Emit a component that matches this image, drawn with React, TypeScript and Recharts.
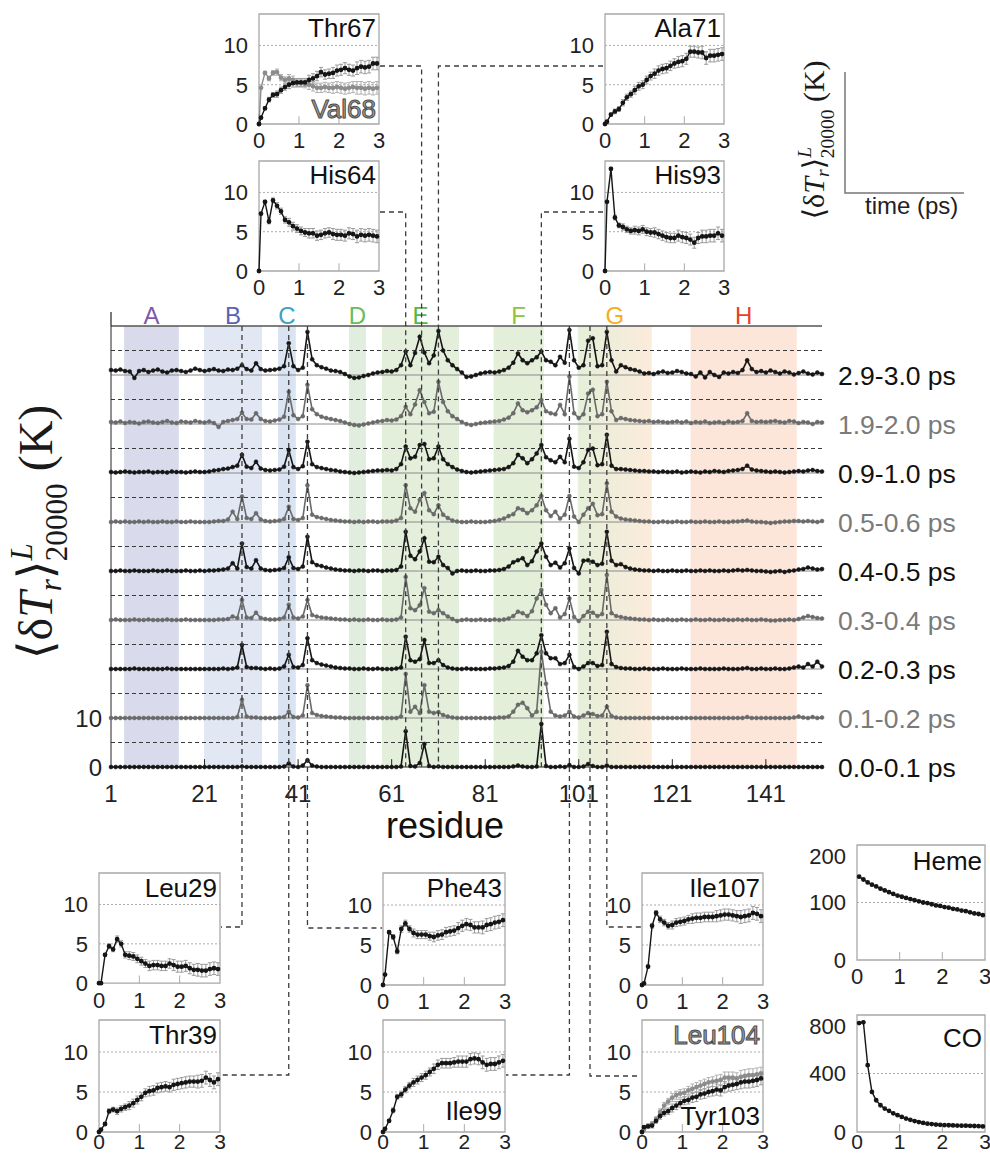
import React from 'react';
import { LineChart, Line, XAxis, YAxis, ReferenceLine, ReferenceArea, ErrorBar } from 'recharts';

const FONT = "'Liberation Sans', Arial, Helvetica, sans-serif";
const SERIF = "'Liberation Serif', 'DejaVu Serif', 'Times New Roman', serif";

// ---------- main panel data (residue 1..153, one array per time window) ----------
const residues = Array.from({ length: 153 }, (_, i) => i + 1);

const seriesLabels = ['0.0-0.1 ps', '0.1-0.2 ps', '0.2-0.3 ps', '0.3-0.4 ps', '0.4-0.5 ps',
  '0.5-0.6 ps', '0.9-1.0 ps', '1.9-2.0 ps', '2.9-3.0 ps'];

const s00 = [
  0, 0, 0, 0, 0, 0, 0, 0, 0, 0,
  0, 0, 0, 0, 0, 0, 0, 0, 0, 0,
  0, 0, 0, 0, 0, 0, 0, 0, 0.1, 0,
  0, 0, 0, 0, 0, 0, 0, 0.1, 0.7, 0.1,
  0, 0.3, 1.4, 0.3, 0.1, 0, 0, 0, 0, 0,
  0, 0, 0, 0, 0, 0, 0, 0, 0, 0,
  0, 0, 0.1, 7.3, 0.2, 0.1, 0.8, 4.7, 0.2, 0,
  0.1, 0, 0, 0, 0, 0, 0, 0, 0, 0,
  0, 0, 0, 0, 0, 0, 0.1, 0.3, 0.1, 0,
  0, 0.1, 8.8, 0.2, 0, 0, 0.1, 0, 0.4, 0,
  0, 0.1, 0.6, 0.2, 0, 0, 0.3, 0, 0, 0,
  0, 0, 0, 0, 0, 0, 0, 0, 0, 0,
  0, 0, 0, 0, 0, 0, 0, 0, 0, 0,
  0, 0, 0, 0, 0, 0, 0, 0, 0, 0,
  0, 0, 0, 0, 0, 0, 0, 0, 0, 0,
  0, 0, 0,
];
const s01 = [
  0, 0, 0, 0, 0, 0, 0, 0, 0, 0,
  0, 0, 0, 0, 0, 0, 0, 0, 0, 0,
  0, 0, 0, 0, 0, 0, 0, 0.2, 3.7, 0.3,
  0.1, 0.1, 0, 0, 0, 0, 0.1, 0.2, 1.3, 0.2,
  0.1, 0.5, 6.7, 1.0, 0.6, 0.4, 0.3, 0.2, 0.1, 0.1,
  0, 0, 0, 0, 0, 0, 0, 0, 0, 0,
  0, 0, 0.3, 9.0, 1.3, 2.3, 1.0, 6.7, 1.3, 1.0,
  1.2, 0.6, 0.3, 0.1, 0, 0, 0, 0, 0, 0,
  0, 0, 0, 0.1, 0.1, 0.3, 1.3, 2.7, 3.1, 2.0,
  0.5, 1.3, 13.5, 7.0, 1.3, 0.5, 0.3, 0.5, 1.3, 0.3,
  0.1, 0.5, 1.0, 0.8, 0.4, 0.5, 2.3, 0.4, 0.1, 0,
  0, 0, 0, 0, 0, 0, 0, 0, 0, 0,
  0, 0, 0, 0, 0, 0, 0, 0, 0, 0,
  0, 0, 0, 0, 0, 0, 0.2, 0, 0, 0,
  0, 0, 0, 0, 0, 0, 0.1, 0.3, 0.1, 0,
  0.2, 0, 0.1,
];
const s02 = [
  0, 0, 0, 0, 0, 0.1, 0, 0, 0, 0,
  0, 0, 0.1, 0, 0, 0, 0, 0, 0, 0,
  0, 0, 0, 0, 0.1, 0, 0.1, 0.3, 4.9, 0.4,
  0.2, 0.2, 0.1, 0, 0.1, 0, 0.1, 0.5, 2.9, 0.4,
  0.3, 0.8, 6.3, 1.8, 1.2, 0.9, 0.7, 0.5, 0.3, 0.2,
  0.1, 0.1, 0, 0, 0.1, 0, 0, 0.1, 0, 0,
  0, 0.1, 0.3, 6.6, 1.8, 1.5, 2.0, 5.9, 1.2, 1.2,
  1.8, 0.8, 0.3, 0.1, 0, 0, 0.1, 0, 0, 0,
  0, 0.1, 0.1, 0.2, 0.3, 0.6, 1.5, 3.7, 2.5, 1.8,
  1.8, 3.2, 6.9, 3.2, 2.2, 2.2, 1.0, 1.2, 2.9, 0.4,
  0, 0.5, 1.2, 1.2, 0.6, 0.8, 7.6, 1.0, 0.4, 0.2,
  0.1, 0.1, 0, 0, 0.1, 0, 0, 0, 0.1, 0,
  0, 0, 0.1, 0, 0, 0, 0.1, 0, 0, 0,
  0, 0.1, 0, 0, 0, 0.1, 0.2, 0, 0, 0.1,
  0, 0, 0.1, 0, 0, 0.1, 0.3, 0.5, 0.3, 1.0,
  0.5, 1.5, 0.5,
];
const s03 = [
  0, 0.1, 0, 0, 0, 0.1, 0, 0, 0.1, 0,
  0, 0, 0.1, 0, 0, 0, 0.1, 0, 0, 0,
  0, 0, 0, 0.1, 0.1, 0.2, 0.7, 0.4, 4.1, 0.5,
  0.4, 1.5, 0.4, 0.2, 0.1, 0.1, 0.2, 0.5, 3.1, 0.5,
  0.3, 0.7, 4.1, 1.0, 0.7, 0.5, 0.4, 0.3, 0.2, 0.1,
  0.1, 0, 0.1, 0, 0, 0.1, 0, 0, 0.1, 0,
  0, 0.1, 0.5, 8.8, 2.4, 2.0, 3.0, 6.5, 1.7, 1.4,
  2.0, 1.4, 0.7, 0.2, -0.2, 0, 0.1, 0, 0, 0.1,
  0, 0, 0.1, 0, 0.1, 0.3, 0.8, 1.7, 1.4, 0.8,
  1.8, 4.4, 6.1, 3.1, 1.4, 2.4, 0.5, 1.2, 4.4, 0.6,
  -0.2, 0.8, 1.7, 1.5, 0.8, 1.2, 9.2, 1.4, 0.8, 0.6,
  0.4, 0.3, 0.2, 0.1, 0.1, 0, 0.1, 0, 0, 0.1,
  0, 0, 0.1, 0, 0, 0.1, 0, 0, 0.1, 0,
  0, 0.1, 0, 0, 0.1, 0, 0.1, 0, 0, 0.1,
  0, -0.1, -0.1, 0, 0, 0.1, 0, 0.2, 0.5, 0.8,
  0.6, 0.4, 0.3,
];
const s04 = [
  0, 0, 0.1, 0, 0, 0.1, 0, 0, 0, 0.1,
  0, 0, 0.1, 0, 0, 0, 0.1, 0, 0, 0.1,
  0, 0.1, 0.1, 0.2, 0.3, 0.5, 1.6, 0.5, 5.6, 0.8,
  0.5, 2.2, 0.5, 0.2, 0.1, 0.2, 0.3, 0.6, 2.8, 0.6,
  0.4, 0.9, 7.0, 1.8, 1.2, 1.0, 0.7, 0.5, 0.3, 0.2,
  0.1, 0.1, 0, 0.1, 0.1, 0, 0.1, 0.1, 0, 0.1,
  0.1, 0.2, 0.9, 8.0, 3.1, 2.4, 4.0, 6.7, 1.9, 1.8,
  2.9, 1.2, 0.6, -0.5, 0, 0.1, 0, 0, 0.1, 0,
  0, 0.1, 0.1, 0.2, 0.4, 0.9, 1.8, 2.2, 2.6, 1.2,
  2.0, 4.0, 5.6, 2.9, 1.2, 1.7, 0.7, 1.6, 4.6, 0.6,
  -0.5, 2.1, 2.2, 1.9, 1.2, 1.5, 8.0, 2.1, 1.2, 1.4,
  0.8, 0.5, 0.3, 0.2, 0.1, 0.1, 0, 0.1, 0, 0,
  0.1, 0, 0, 0.1, 0, 0, 0.1, 0, 0.1, 0,
  0, 0.1, 0, 0.1, 0.2, 0.1, 0.2, 0.1, 0, 0,
  -0.1, -0.2, -0.1, 0, -0.2, 0, 0.1, 0.3, 0.4, 0.7,
  0.5, 0.3, 0.4,
];
const s05 = [
  0, 0.1, 0, 0.1, 0, 0, 0.1, 0, 0.1, 0,
  0, 0.1, 0, 0, 0.1, 0, 0, 0.1, 0, 0,
  0, 0, 0.1, 0.2, 0.2, 0.5, 2.1, 0.6, 5.2, 0.8,
  0.6, 1.8, 0.5, 0.2, 0.1, 0.2, 0.3, 0.6, 3.1, 0.6,
  0.4, 0.8, 7.5, 1.5, 1.0, 0.8, 0.6, 0.4, 0.3, 0.2,
  0.1, 0.1, 0, 0.1, 0, 0.1, 0.1, 0, 0.1, 0.1,
  0.1, 0.3, 0.8, 7.5, 2.8, 2.1, 4.5, 5.9, 2.4, 1.6,
  3.4, 1.5, 0.8, 0.3, 0.1, 0, 0, 0.1, 0, 0,
  0, 0.1, 0.2, 0.4, 0.7, 1.2, 1.6, 2.8, 2.5, 1.8,
  2.4, 3.4, 5.3, 2.4, 1.2, 2.1, 0.7, 1.5, 5.3, 1.1,
  0, 1.5, 2.8, 3.7, 1.4, 1.6, 7.9, 2.1, 1.1, 0.7,
  0.5, 0.4, 0.3, 0.2, 0.1, 0.1, 0, 0, 0.1, 0,
  0, 0.1, 0, 0, 0.1, 0, 0, 0.1, 0, 0,
  0.1, 0, 0, 0.1, 0.1, 0.2, 0.3, 0.1, 0, 0,
  -0.1, -0.2, -0.1, 0, 0.1, 0.1, 0.2, 0.2, 0.1, 0.2,
  0.1, 0, 0.2,
];
const s09 = [
  0.2, 0.1, 0.2, 0.3, 0.2, 0.1, 0.2, 0.2, 0.3, 0.1,
  0.2, 0.2, 0.1, 0.3, 0.2, 0.2, 0.1, 0.2, 0.3, 0.2,
  0.2, 0.3, 0.5, 0.6, 0.8, 0.9, 1.2, 1.5, 3.7, 1.3,
  1.0, 2.3, 0.9, 0.6, 0.5, 0.6, 0.7, 1.3, 4.7, 1.2,
  0.8, 1.4, 6.4, 1.8, 1.2, 1.0, 0.8, 0.6, 0.5, 0.3,
  0.2, 0.1, 0, 0.1, 0.2, 0.3, 0.4, 0.5, 0.5, 0.6,
  0.5, 0.8, 1.8, 5.4, 3.0, 3.3, 5.7, 5.9, 2.8, 3.0,
  5.4, 2.8, 1.8, 1.2, 0.7, 0.4, 0.2, 0.1, 0.2, 0.3,
  0.4, 0.5, 0.6, 0.7, 0.8, 1.2, 2.0, 3.7, 3.0, 2.0,
  2.8, 4.0, 5.7, 3.2, 2.6, 2.2, 3.3, 2.2, 7.0, 1.3,
  1.0, 2.2, 4.7, 5.0, 1.6, 1.8, 7.8, 1.5, 0.8, 0.8,
  0.7, 0.6, 0.5, 0.4, 0.4, 0.3, 0.3, 0.2, 0.3, 0.2,
  0.2, 0.3, 0.1, 0.2, 0.3, 0.2, 0.1, 0.3, 0.2, 0.4,
  0.3, 0.2, 0.4, 0.5, 0.6, 0.8, 1.5, 0.7, 0.5, 0.4,
  0.3, 0.2, 0.3, 0.2, 0.1, 0.2, 0.3, 0.4, 0.3, 0.5,
  0.6, 0.4, 0.3,
];
const s19 = [
  0.4, 0.3, 0.5, 0.2, 0.4, 0.3, 0.1, 0.4, 0.5, 0.3,
  0.2, 0.4, 0.6, 0.3, 0.2, 0.5, 0.4, 0.3, 0.6, 0.4,
  0.3, 0.5, 0.2, -0.6, 0.4, 0.6, 0.8, 1.0, 2.3, 1.0,
  0.9, 2.2, 1.0, 0.6, 0.5, 0.7, 0.9, 1.5, 6.6, 1.8,
  1.0, 1.6, 8.0, 3.0, 2.0, 1.5, 1.2, 1.0, 0.8, 0.6,
  0.3, 0, -0.2, -0.3, -0.1, 0.1, 0.3, 0.5, 0.6, 0.8,
  0.7, 0.9, 1.6, 3.5, 2.0, 4.0, 6.9, 4.5, 2.2, 2.5,
  8.6, 4.5, 2.6, 1.6, 1.0, 0.4, 0, -0.2, 0, 0.2,
  0.3, 0.4, 0.5, 0.6, 0.9, 1.3, 2.2, 4.2, 2.8, 2.4,
  2.8, 3.4, 4.9, 2.6, 2.2, 2.0, 3.9, 2.0, 9.7, 2.2,
  1.2, 2.0, 6.2, 7.0, 1.6, 2.0, 8.6, 2.6, 0.8, 1.2,
  1.0, 0.8, 0.7, 0.6, 0.5, 0.6, 0.4, 0.5, 0.4, 0.3,
  0.4, 0.5, 0.3, 0.5, 0.2, 0.4, 0.3, 0.5, 0.2, 0.3,
  0.4, 0.2, 0.5, 0.3, 0.4, 0.6, 2.2, 0.6, 0.4, 0.5,
  0.4, 0.5, 0.6, 0.4, 0.3, 0.6, 0.5, 0.2, 0.4, 0.3,
  0, 0.4, 0.3,
];
const s29 = [
  1.0, 0.9, 1.1, 0.8, 0.7, -0.6, 0.8, 1.0, 0.6, 0.9,
  1.1, 0.7, 0.5, 0.9, 1.0, 0.8, 0.6, 0.9, 1.3, 1.0,
  0.8, 1.0, 1.2, 0.9, 0.8, 1.1, 1.0, 1.3, 2.0, 1.2,
  0.9, 2.4, 1.2, 0.9, 1.0, 1.1, 1.3, 1.8, 6.5, 1.8,
  1.0, 1.5, 8.8, 3.2, 2.0, 1.6, 1.3, 0.9, 0.8, 0.6,
  0.2, -0.3, -0.6, -0.5, -0.2, 0, 0.3, 0.5, 0.6, 0.8,
  0.7, 1.0, 2.0, 4.8, 2.0, 4.5, 7.8, 4.6, 2.4, 4.0,
  9.0, 5.0, 3.0, 2.0, 1.2, 0.5, -0.4, -0.3, 0, 0.3,
  0.5, 0.6, 0.5, 0.7, 1.0, 1.5, 2.5, 4.4, 3.0, 2.4,
  3.0, 3.6, 4.8, 3.0, 2.7, 2.0, 3.7, 2.5, 9.2, 3.0,
  1.5, 2.0, 7.0, 7.5, 1.8, 2.0, 8.8, 3.0, 0.7, 2.0,
  1.6, 1.2, 1.0, 0.7, 0.3, 0.4, 0.2, 0.5, 0.7, 0.4,
  0.5, 0.8, 0.6, 0.3, 0.2, -0.3, 0.5, -0.5, 0.6, 0,
  -0.4, 0.5, 0.3, 0.6, 0.4, 1.0, 3.0, 1.2, 0.6, 0.8,
  0.5, 0.9, 0.6, 0.3, 0.7, 0.5, 0.1, 0.4, 0.7, 0.3,
  0.1, 0.5, 0.2,
];
const mainSeries = [s00, s01, s02, s03, s04, s05, s09, s19, s29];

// helices
const helixNames = ['A', 'B', 'C', 'D', 'E', 'F', 'G', 'H'];
const helixStart = [3.8, 20.9, 36.7, 51.9, 58.9, 82.8, 100.8, 124.9];
const helixEnd = [15.5, 33.3, 40.5, 55.5, 75.4, 93.5, 116.6, 147.6];
const helixFill = ['#d9dbed', '#e1e8f4', '#d9e3f1', '#e1edde', '#e4efdb', '#e3efd9', 'url(#gBand)', '#fbe6d9'];
const helixText = ['#7d5aa8', '#5a62b8', '#3aa3c2', '#62bf5c', '#52b848', '#8dc43a', '#f5ad1c', '#ea3f27'];

// ---------- inset data (time in ps) ----------
const time = [0, 0.05, 0.15, 0.25, 0.35, 0.45, 0.55, 0.65, 0.75, 0.85, 0.95, 1.05, 1.15, 1.25, 1.35, 1.45,
  1.55, 1.65, 1.75, 1.85, 1.95, 2.05, 2.15, 2.25, 2.35, 2.45, 2.55, 2.65, 2.75, 2.85, 2.95];
const timeHC = time.slice(1);
const errs = [0, 0.1, 0.2, 0.3, 0.3, 0.4, 0.4, 0.4, 0.5, 0.5, 0.5, 0.5, 0.5, 0.6, 0.6, 0.6,
  0.6, 0.6, 0.6, 0.7, 0.7, 0.7, 0.7, 0.7, 0.7, 0.8, 0.8, 0.8, 0.8, 0.8, 0.8];

const thr67 = [0, 0.8, 2.0, 3.1, 3.7, 3.8, 4.3, 4.7, 5.0, 5.2, 5.3, 5.3, 5.3, 5.6, 5.8, 6.1, 6.6, 6.3, 6.4, 6.5, 6.8, 6.9, 7.1, 6.9, 6.8, 7.1, 7.3, 7.2, 7.3, 7.7, 7.7];
const val68 = [0, 4.6, 6.5, 5.8, 6.5, 6.6, 5.9, 5.6, 5.8, 5.6, 5.2, 5.2, 5.1, 5.0, 4.8, 4.6, 4.6, 4.7, 4.6, 4.6, 4.7, 4.6, 4.5, 4.6, 4.7, 4.6, 4.6, 4.5, 4.6, 4.5, 4.6];
const his64 = [0, 7.3, 8.8, 6.3, 9.0, 8.3, 7.6, 6.5, 6.2, 5.7, 5.4, 5.1, 4.9, 4.8, 4.8, 4.5, 4.6, 4.8, 4.9, 4.7, 4.6, 4.6, 4.5, 4.8, 4.7, 4.4, 4.6, 4.5, 4.6, 4.5, 4.4];
const ala71 = [0, 0.3, 1.2, 1.6, 1.9, 2.7, 3.4, 3.8, 4.3, 4.8, 5.0, 5.6, 6.1, 6.4, 6.8, 7.0, 7.1, 7.4, 7.7, 7.9, 8.0, 8.3, 9.2, 9.2, 9.1, 9.1, 8.4, 8.7, 8.7, 8.8, 8.9];
const his93 = [0, 8.8, 13.0, 6.8, 5.8, 5.6, 5.3, 5.1, 5.2, 5.1, 5.3, 5.0, 4.9, 4.9, 4.7, 4.5, 4.3, 4.2, 4.2, 4.5, 4.3, 4.2, 4.0, 3.6, 4.2, 4.4, 4.4, 4.5, 4.5, 4.8, 4.5];
const leu29 = [0, 0, 3.6, 4.7, 4.3, 5.6, 5.0, 3.6, 3.5, 3.4, 3.1, 2.8, 2.5, 2.2, 2.3, 2.3, 2.2, 2.2, 2.5, 2.3, 2.1, 2.1, 2.2, 1.9, 1.7, 1.7, 1.6, 1.6, 1.8, 1.9, 1.8];
const thr39 = [0, 0.3, 1.0, 2.6, 2.8, 2.6, 2.9, 3.1, 3.3, 3.6, 4.0, 4.4, 4.9, 5.1, 5.2, 5.5, 5.6, 5.7, 5.6, 5.9, 6.0, 6.1, 6.2, 6.3, 6.3, 6.3, 6.4, 6.8, 6.5, 6.2, 6.6];
const phe43 = [0, 1.3, 6.6, 6.0, 4.2, 7.0, 7.7, 7.0, 6.5, 6.3, 6.3, 6.3, 6.1, 6.0, 6.2, 6.3, 6.6, 6.7, 6.8, 7.1, 7.4, 7.6, 7.5, 7.2, 7.2, 7.2, 7.5, 7.6, 7.8, 7.9, 8.1];
const ile99 = [0, 0.4, 1.4, 2.7, 4.4, 4.7, 5.3, 5.8, 6.2, 6.5, 6.8, 7.1, 7.5, 7.9, 8.4, 8.6, 8.6, 8.6, 8.7, 8.8, 8.8, 8.8, 9.1, 9.2, 9.1, 8.7, 8.4, 8.5, 8.5, 8.7, 8.9];
const ile107 = [0, 0.2, 2.3, 7.4, 9.0, 8.2, 7.8, 7.4, 7.5, 7.8, 7.9, 8.0, 8.2, 8.3, 8.4, 8.4, 8.5, 8.5, 8.5, 8.6, 8.7, 8.8, 8.8, 8.7, 8.6, 8.5, 8.6, 8.7, 9.0, 8.9, 8.6];
const tyr103 = [0, 0.6, 0.7, 0.8, 1.4, 2.0, 2.4, 2.6, 3.0, 3.3, 3.6, 3.9, 4.0, 4.3, 4.4, 4.7, 4.8, 5.0, 5.1, 5.3, 5.2, 5.6, 5.8, 5.9, 6.0, 6.2, 6.3, 6.3, 6.4, 6.5, 6.7];
const leu104 = [0, 0.3, 0.8, 1.0, 1.6, 2.5, 3.3, 3.8, 4.3, 4.6, 4.8, 4.9, 5.2, 5.4, 5.6, 5.8, 6.0, 6.2, 6.3, 6.4, 6.5, 6.8, 6.8, 6.8, 6.7, 6.9, 7.0, 7.1, 7.1, 7.2, 7.3];
const heme = [145, 140, 135, 131, 128, 124, 121, 118, 115, 112, 110, 108, 106, 104, 102, 100, 99, 97, 95, 94, 92, 91, 89, 88, 86, 85, 83, 81, 80, 78];
const co = [745, 750, 457, 274, 217, 183, 160, 145, 128, 115, 103, 92, 83, 75, 68, 62, 57, 54, 51, 49, 47, 46, 45, 44, 43, 43, 42, 41, 40, 38];

// ---------- layout ----------
const PL = 111, PR = 822, PT = 326, PB = 767;
const rx = (res: number) => PL + ((res - 1) * (PR - PL)) / 152;
const ry = (v: number) => PB - ((PB - PT) * v) / 90;

type Box = { l: number; t: number; w: number; h: number };
type Title = { text: string; where: 'top' | 'bottom'; dy: number; outline?: boolean };
type InsetDef = {
  box: Box; times: number[]; a: number[]; b?: number[]; err: boolean;
  yMax: number; yTicks: number[]; grid: number[]; titles: Title[];
};

const insets: InsetDef[] = [
  { box: { l: 259, t: 14, w: 120, h: 110 }, times: time, a: thr67, b: val68, err: true, yMax: 14, yTicks: [0, 5, 10], grid: [5, 10],
    titles: [{ text: 'Thr67', where: 'top', dy: 23 }, { text: 'Val68', where: 'bottom', dy: -6, outline: true }] },
  { box: { l: 259, t: 161, w: 120, h: 110 }, times: time, a: his64, err: true, yMax: 14, yTicks: [0, 5, 10], grid: [5, 10],
    titles: [{ text: 'His64', where: 'top', dy: 23 }] },
  { box: { l: 605, t: 14, w: 119, h: 110 }, times: time, a: ala71, err: true, yMax: 14, yTicks: [0, 5, 10], grid: [5, 10],
    titles: [{ text: 'Ala71', where: 'top', dy: 23 }] },
  { box: { l: 605, t: 161, w: 119, h: 110 }, times: time, a: his93, err: true, yMax: 14, yTicks: [0, 5, 10], grid: [5, 10],
    titles: [{ text: 'His93', where: 'top', dy: 23 }] },
  { box: { l: 99, t: 873, w: 121, h: 111 }, times: time, a: leu29, err: true, yMax: 14, yTicks: [0, 5, 10], grid: [5, 10],
    titles: [{ text: 'Leu29', where: 'top', dy: 24 }] },
  { box: { l: 99, t: 1020, w: 121, h: 112 }, times: time, a: thr39, err: true, yMax: 14, yTicks: [0, 5, 10], grid: [5, 10],
    titles: [{ text: 'Thr39', where: 'top', dy: 24 }] },
  { box: { l: 383, t: 873, w: 122, h: 112 }, times: time, a: phe43, err: true, yMax: 14, yTicks: [0, 5, 10], grid: [5, 10],
    titles: [{ text: 'Phe43', where: 'top', dy: 24 }] },
  { box: { l: 383, t: 1020, w: 122, h: 112 }, times: time, a: ile99, err: true, yMax: 14, yTicks: [0, 5, 10], grid: [5, 10],
    titles: [{ text: 'Ile99', where: 'bottom', dy: -12 }] },
  { box: { l: 642, t: 873, w: 121, h: 112 }, times: time, a: ile107, err: true, yMax: 14, yTicks: [0, 5, 10], grid: [5, 10],
    titles: [{ text: 'Ile107', where: 'top', dy: 24 }] },
  { box: { l: 642, t: 1020, w: 121, h: 112 }, times: time, a: tyr103, b: leu104, err: true, yMax: 14, yTicks: [0, 5, 10], grid: [5, 10],
    titles: [{ text: 'Leu104', where: 'top', dy: 24, outline: true }, { text: 'Tyr103', where: 'bottom', dy: -7 }] },
  { box: { l: 857, t: 845, w: 128, h: 115 }, times: timeHC, a: heme, err: false, yMax: 200, yTicks: [0, 100, 200], grid: [100],
    titles: [{ text: 'Heme', where: 'top', dy: 25 }] },
  { box: { l: 857, t: 1015, w: 128, h: 117 }, times: timeHC, a: co, err: false, yMax: 800, yTicks: [0, 400, 800], grid: [400],
    titles: [{ text: 'CO', where: 'top', dy: 32 }] },
];

const topLinks = [
  { res: 67.4, y: 66, xEnd: 380 },
  { res: 71, y: 66, xEnd: 603 },
  { res: 64, y: 212, xEnd: 380 },
  { res: 93, y: 212, xEnd: 603 },
];
const bottomLinks = [
  { res: 29, y: 927, xEnd: 221 },
  { res: 39, y: 1075, xEnd: 221 },
  { res: 43, y: 928, xEnd: 382 },
  { res: 99, y: 1075, xEnd: 506 },
  { res: 103.4, y: 1076, xEnd: 641 },
  { res: 107, y: 927, xEnd: 641 },
];

const BLACK = '#161616';
const GRAY = '#6a6a6a';

function MainPanel() {
  const rows = residues.map((r, i) => {
    const row: Record<string, number> = { r };
    mainSeries.forEach((s, k) => { row['s' + k] = s[i] + 10 * k; });
    return row;
  });
  const solid = [10, 20, 30, 40, 50, 60, 70, 80, 90];
  const dashed = [5, 15, 25, 35, 45, 55, 65, 75, 85];
  const xTicks = [1, 21, 41, 61, 81, 101, 121, 141];
  return (
    <div style={{ position: 'absolute', left: 0, top: 290 }}>
      <LineChart width={990} height={527} data={rows} margin={{ top: 36, right: 168, bottom: 10, left: 0 }}>
        <defs>
          <linearGradient id="gBand" x1="0" y1="0" x2="1" y2="0">
            <stop offset="0%" stopColor="#e5efd9" />
            <stop offset="100%" stopColor="#fcebdb" />
          </linearGradient>
        </defs>
        <XAxis dataKey="r" type="number" domain={[1, 153]} ticks={xTicks} tickLine={false} tickMargin={12}
          height={40} stroke="#222" tick={{ fontSize: 24, fill: '#222', fontFamily: FONT }} />
        <YAxis type="number" domain={[0, 90]} ticks={[0, 10]} width={111} tickLine={false} tickMargin={3}
          stroke="#222" tick={{ fontSize: 24, fill: '#222', fontFamily: FONT }} />
        {helixNames.map((n, i) => (
          <ReferenceArea key={n} x1={helixStart[i]} x2={helixEnd[i]} y1={0} y2={90} fill={helixFill[i]} fillOpacity={1}
            stroke="none" label={{ value: n, position: 'top', offset: 2, fill: helixText[i], fontSize: 24, fontFamily: FONT }} />
        ))}
        {solid.map((v) => (
          <ReferenceLine key={'s' + v} y={v} stroke={v === 90 ? '#555' : '#8a8a8a'} strokeWidth={v === 90 ? 1.5 : 1} />
        ))}
        {dashed.map((v) => (
          <ReferenceLine key={'d' + v} y={v} stroke="#3a3a3a" strokeWidth={1.2} strokeDasharray="4 3" />
        ))}
        {xTicks.slice(1).map((v) => (
          <ReferenceLine key={'t' + v} segment={[{ x: v, y: 0 }, { x: v, y: 1.6 }]} stroke="#222" />
        ))}
        {mainSeries.map((_, k) => {
          const c = k % 2 ? GRAY : BLACK;
          return (
            <Line key={k} dataKey={'s' + k} stroke={c} strokeWidth={1.6} isAnimationActive={false}
              dot={{ r: 2, fill: c, stroke: c, strokeWidth: 0.5 }} />
          );
        })}
      </LineChart>
    </div>
  );
}

function Inset({ def }: { def: InsetDef }) {
  const { box } = def;
  const yw = 60, mt = 2, mr = 14, xh = 34;
  // bottom row sits at the page edge: pull its time labels up a little so they stay inside
  const lowRow = box.t + box.h > 1100;
  const rows = def.times.map((t, i) => ({
    t, a: def.a[i], b: def.b ? def.b[i] : undefined, e: def.err ? errs[i] : 0,
  }));
  const tick = { fontSize: 22, fill: '#222', fontFamily: FONT };
  return (
    <div style={{ position: 'absolute', left: box.l - yw, top: box.t - mt }}>
      <LineChart width={yw + box.w + mr} height={mt + box.h + xh} data={rows} margin={{ top: mt, right: mr, bottom: 0, left: 0 }}>
        <XAxis dataKey="t" type="number" domain={[0, 3]} ticks={[0, 1, 2, 3]} height={xh} tickLine={false}
          tickMargin={lowRow ? -4 : 2} axisLine={false} tick={{ ...tick, fontSize: lowRow ? 21 : 22 }} />
        <YAxis type="number" domain={[0, def.yMax]} ticks={def.yTicks} width={yw} tickLine={false}
          tickMargin={5} axisLine={false} tick={tick} />
        {def.grid.map((g) => (
          <ReferenceLine key={g} y={g} stroke="#aaa" strokeDasharray="2 2" />
        ))}
        {[1, 2].map((v) => (
          <ReferenceLine key={'t' + v} segment={[{ x: v, y: 0 }, { x: v, y: def.yMax * 0.07 }]} stroke="#aaa" />
        ))}
        <ReferenceArea x1={0} x2={3} y1={0} y2={def.yMax} fill="none" stroke="#a8a8a8" strokeWidth={1.3} />
        {def.b && (
          <Line dataKey="b" stroke="#8c8c8c" strokeWidth={1.4} isAnimationActive={false}
            dot={{ r: 1.7, fill: '#8c8c8c', stroke: '#8c8c8c' }}>
            <ErrorBar dataKey="e" width={2} stroke="#b0b0b0" strokeWidth={1} />
          </Line>
        )}
        <Line dataKey="a" stroke={BLACK} strokeWidth={1.4} isAnimationActive={false}
          dot={{ r: 1.7, fill: BLACK, stroke: BLACK }}>
          {def.err && <ErrorBar dataKey="e" width={2} stroke="#9a9a9a" strokeWidth={1} />}
        </Line>
      </LineChart>
    </div>
  );
}

const MathLabel = ({ x, y, fs }: { x: number; y: number; fs: number }) => (
  <text transform={`translate(${x},${y}) rotate(-90)`} textAnchor="middle" fontFamily={SERIF} fontSize={fs} fill="#1a1a1a">
    <tspan>⟨δ</tspan>
    <tspan fontStyle="italic">T</tspan>
    <tspan fontStyle="italic" fontSize={fs * 0.65} dy={fs * 0.18}>r</tspan>
    <tspan dy={-fs * 0.18}>⟩</tspan>
    <tspan fontStyle="italic" fontSize={fs * 0.65} dy={-fs * 0.42}>L</tspan>
    <tspan fontSize={fs * 0.65} dx={-fs * 0.38} dy={fs * 0.74}>20000</tspan>
    <tspan dy={-fs * 0.32}> (K)</tspan>
  </text>
);

function Overlay() {
  const dash = { fill: 'none', stroke: '#3c3c3c', strokeWidth: 1.3, strokeDasharray: '5 4' };
  return (
    <svg width={990} height={1159} style={{ position: 'absolute', left: 0, top: 0, pointerEvents: 'none' }}>
      {topLinks.map((c, i) => (
        <path key={'tl' + i} d={`M${c.xEnd},${c.y} H${rx(c.res)} V${PB}`} {...dash} />
      ))}
      {bottomLinks.map((c, i) => (
        <path key={'bl' + i} d={`M${rx(c.res)},${PT} V${c.y} H${c.xEnd}`} {...dash} />
      ))}
      <line x1={PL} y1={312} x2={PL} y2={PT} stroke="#222" strokeWidth={1.2} />
      {seriesLabels.map((s, k) => (
        <text key={s} x={838} y={ry(10 * k)} dy="0.36em" fontSize={26.5} fontFamily={FONT}
          fill={k % 2 ? '#7a7a7a' : '#111'}>{s}</text>
      ))}
      <path d="M845,72 V193 H964" fill="none" stroke="#777" strokeWidth={1.5} />
      <text x={865} y={214} fontSize={24} fontFamily={FONT} fill="#222">time (ps)</text>
      <MathLabel x={824} y={140} fs={30} />
      <MathLabel x={52} y={532} fs={48} />
      <text x={445} y={838} fontSize={36} fontFamily={FONT} textAnchor="middle" fill="#111">residue</text>
      {insets.map((d, i) =>
        d.titles.map((t, j) => (
          <text key={`${i}-${j}`} x={d.box.l + d.box.w - 3} y={t.where === 'top' ? d.box.t + t.dy : d.box.t + d.box.h + t.dy}
            textAnchor="end" fontSize={26} fontFamily={FONT}
            fill={t.outline ? '#a0a0a0' : '#111'} stroke={t.outline ? '#4a4a4a' : 'none'} strokeWidth={t.outline ? 1 : 0}>
            {t.text}
          </text>
        )),
      )}
    </svg>
  );
}

export default function App() {
  return (
    <div style={{ position: 'absolute', left: 0, top: 0, width: 990, height: 1159, background: '#fff', fontFamily: FONT, overflow: 'hidden' }}>
      <MainPanel />
      {insets.map((d, i) => (
        <Inset key={i} def={d} />
      ))}
      <Overlay />
    </div>
  );
}
